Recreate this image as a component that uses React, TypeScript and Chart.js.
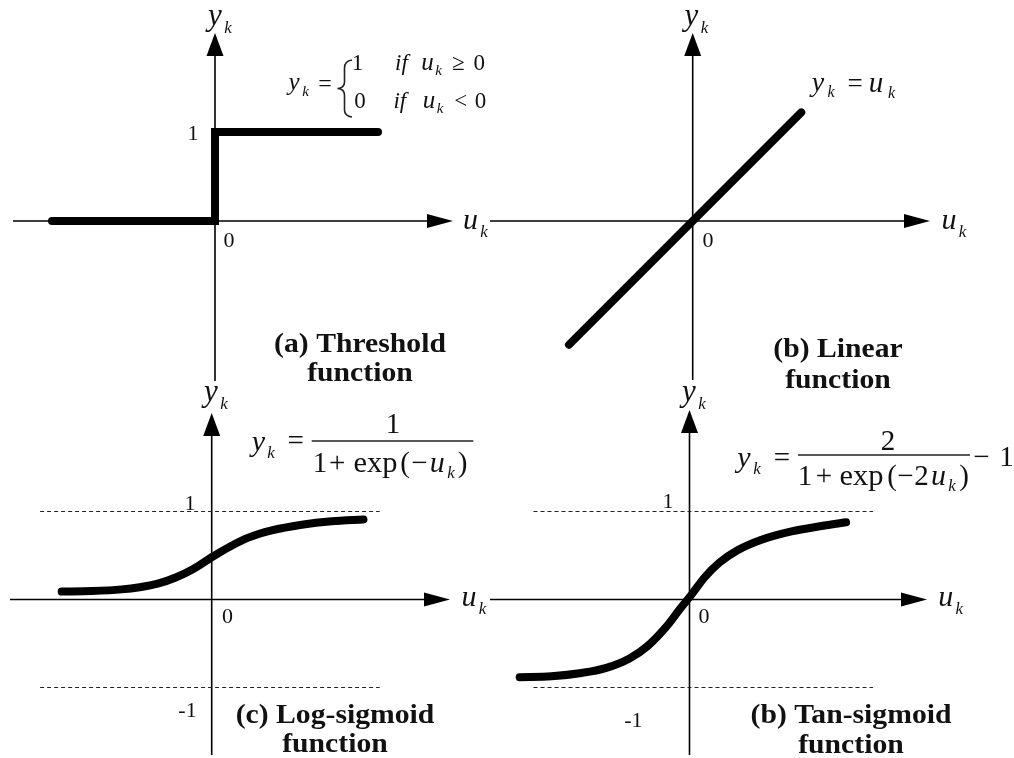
import React, { useEffect, useRef } from "react";
import { Chart, registerables } from "chart.js";

Chart.register(...registerables);

const W = 1014;
const H = 758;
const SERIF = "'Liberation Serif', 'Times New Roman', serif";

// (a) threshold: step from 0 to 1 at u = 0
const thresholdU = [-2, 0, 0, 2];
const thresholdY = [0, 0, 1, 1];

// (b) linear: y = u
const linearU = [-1.39, 1.22];
const linearY = [-1.39, 1.22];

// (c) log-sigmoid curve samples
const logSigU = [-2.5, -2.0, -1.5, -1.2, -0.9, -0.6, -0.3, 0, 0.3, 0.6, 1.0, 1.5, 2.0, 2.53];
const logSigY = [0.09, 0.096, 0.115, 0.14, 0.18, 0.25, 0.35, 0.48, 0.6, 0.7, 0.785, 0.85, 0.89, 0.91];

// (d) tan-sigmoid curve samples
const tanSigU = [-2.83, -2.3, -1.8, -1.4, -1.0, -0.7, -0.4, -0.15, 0.05, 0.25, 0.5, 0.8, 1.2, 1.7, 2.2, 2.61];
const tanSigY = [-0.883, -0.872, -0.835, -0.78, -0.67, -0.53, -0.32, -0.1, 0.07, 0.25, 0.42, 0.56, 0.68, 0.775, 0.835, 0.878];

// dashed asymptote guides at y = 1 and y = -1
const guideLevels = [1, -1];
const logSigGuideU = [-2.86, 2.8];
const tanSigGuideU = [-2.6, 3.06];

// axis tick labels
const zeroLabel = "0";
const oneLabel = "1";
const minusOneLabel = "-1";

// panel captions
const thresholdTitle = ["(a) Threshold", "function"];
const linearTitle = ["(b) Linear", "function"];
const logSigTitle = ["(c) Log-sigmoid", "function"];
const tanSigTitle = ["(b) Tan-sigmoid", "function"];

const it = (s: number) => `italic ${s}px ${SERIF}`;
const rm = (s: number) => `${s}px ${SERIF}`;
const bd = (s: number) => `bold ${s}px ${SERIF}`;

// text token, x is the horizontal centre unless align says otherwise, y is the baseline
type Tok = { t: string; x: number; y: number; font: string; align?: CanvasTextAlign; sx?: number };

type Panel = {
  origin: [number, number];
  unit: [number, number];
  axis: { left: number; right: number; top: number; bottom: number };
  series: { u: number[]; y: number[]; smooth: boolean }[];
  guides?: { levels: number[]; u: number[] };
  texts: Tok[];
  decor?: (ctx: CanvasRenderingContext2D) => void;
};

const titleToks = (lines: string[], cx: number, b1: number, b2: number): Tok[] => [
  { t: lines[0], x: cx, y: b1, font: bd(28), sx: 1.06 },
  { t: lines[1], x: cx, y: b2, font: bd(28), sx: 1.06 },
];

const axisNameToks = (yc: number, yb: number, uc: number, ub: number): Tok[] => [
  { t: "y", x: yc, y: yb, font: it(31) },
  { t: "k", x: yc + 13, y: yb + 8, font: it(17) },
  { t: "u", x: uc, y: ub, font: it(30) },
  { t: "k", x: uc + 13.5, y: ub + 8, font: it(17) },
];

const fracBar = (x1: number, x2: number, y: number) => (ctx: CanvasRenderingContext2D) => {
  ctx.save();
  ctx.strokeStyle = "#222";
  ctx.lineWidth = 1.4;
  ctx.beginPath();
  ctx.moveTo(x1, y);
  ctx.lineTo(x2, y);
  ctx.stroke();
  ctx.restore();
};

const panelA: Panel = {
  origin: [215, 221],
  unit: [81.5, 89],
  axis: { left: 13, right: 453, top: 33, bottom: 381 },
  series: [{ u: thresholdU, y: thresholdY, smooth: false }],
  texts: [
    ...axisNameToks(215, 25, 470.5, 229),
    { t: zeroLabel, x: 229, y: 247, font: rm(22) },
    { t: oneLabel, x: 193, y: 140, font: rm(22) },
    { t: "y", x: 294, y: 90, font: it(25) },
    { t: "k", x: 305.5, y: 96, font: it(15) },
    { t: "=", x: 325, y: 91, font: rm(24) },
    { t: "1", x: 357.5, y: 70, font: rm(23) },
    { t: "if", x: 401.5, y: 70, font: it(23) },
    { t: "u", x: 427.5, y: 70, font: it(25) },
    { t: "k", x: 438.5, y: 75, font: it(15) },
    { t: "\u2265", x: 458.3, y: 70, font: rm(23) },
    { t: "0", x: 479.2, y: 70, font: rm(23) },
    { t: "0", x: 360, y: 108, font: rm(23) },
    { t: "if", x: 399.8, y: 108, font: it(23) },
    { t: "u", x: 429, y: 108, font: it(25) },
    { t: "k", x: 440, y: 113, font: it(15) },
    { t: "<", x: 460.8, y: 108, font: rm(23) },
    { t: "0", x: 480.5, y: 108, font: rm(23) },
    ...titleToks(thresholdTitle, 360, 352, 381),
  ],
  decor: (ctx) => {
    // curly brace of the piecewise definition
    ctx.save();
    ctx.strokeStyle = "#222";
    ctx.lineWidth = 1.6;
    ctx.beginPath();
    ctx.moveTo(352, 60);
    ctx.quadraticCurveTo(344.5, 61, 344.5, 68);
    ctx.lineTo(344.5, 82);
    ctx.quadraticCurveTo(344.5, 88, 337.5, 88.5);
    ctx.quadraticCurveTo(344.5, 89, 344.5, 95);
    ctx.lineTo(344.5, 110);
    ctx.quadraticCurveTo(344.5, 116, 352, 117);
    ctx.stroke();
    ctx.restore();
  },
};

const panelB: Panel = {
  origin: [692.7, 221],
  unit: [89, 89],
  axis: { left: 490, right: 930, top: 33, bottom: 380 },
  series: [{ u: linearU, y: linearY, smooth: false }],
  texts: [
    ...axisNameToks(691.5, 25, 949, 229),
    { t: zeroLabel, x: 708, y: 247, font: rm(22) },
    { t: "y", x: 818, y: 91, font: it(28) },
    { t: "k", x: 831, y: 97, font: it(16) },
    { t: "=", x: 855, y: 92, font: rm(27) },
    { t: "u", x: 876, y: 92, font: it(29) },
    { t: "k", x: 891.5, y: 98, font: it(16) },
    ...titleToks(linearTitle, 838, 357, 388),
  ],
};

const panelC: Panel = {
  origin: [211.7, 599.5],
  unit: [60, 88],
  axis: { left: 10, right: 450, top: 413, bottom: 755 },
  series: [{ u: logSigU, y: logSigY, smooth: true }],
  guides: { levels: guideLevels, u: logSigGuideU },
  texts: [
    ...axisNameToks(211, 401, 469, 606),
    { t: oneLabel, x: 190, y: 510, font: rm(22) },
    { t: zeroLabel, x: 227.5, y: 623, font: rm(22) },
    { t: minusOneLabel, x: 187.5, y: 717, font: rm(22) },
    { t: "y", x: 258.3, y: 451, font: it(30) },
    { t: "k", x: 271, y: 458, font: it(17) },
    { t: "=", x: 295.8, y: 450, font: rm(29) },
    { t: "1", x: 393, y: 433, font: rm(29) },
    { t: "1", x: 320, y: 472, font: rm(29) },
    { t: "+", x: 337.3, y: 472, font: rm(29) },
    { t: "exp", x: 375.5, y: 472, font: rm(29), sx: 1.05 },
    { t: "(", x: 405, y: 472, font: rm(29) },
    { t: "\u2212", x: 419.5, y: 472, font: rm(29) },
    { t: "u", x: 437.3, y: 472, font: it(30) },
    { t: "k", x: 451, y: 478, font: it(17) },
    { t: ")", x: 462.5, y: 472, font: rm(29) },
    ...titleToks(logSigTitle, 335, 723, 752),
  ],
  decor: fracBar(311.7, 473.3, 441),
};

const panelD: Panel = {
  origin: [689.5, 599.5],
  unit: [60, 88],
  axis: { left: 490, right: 927, top: 410, bottom: 755 },
  series: [{ u: tanSigU, y: tanSigY, smooth: true }],
  guides: { levels: guideLevels, u: tanSigGuideU },
  texts: [
    ...axisNameToks(689, 401, 945.8, 606),
    { t: oneLabel, x: 668, y: 508, font: rm(22) },
    { t: zeroLabel, x: 704, y: 623, font: rm(22) },
    { t: minusOneLabel, x: 633.3, y: 727, font: rm(22) },
    { t: "y", x: 744, y: 467, font: it(30) },
    { t: "k", x: 757, y: 474, font: it(17) },
    { t: "=", x: 782, y: 467, font: rm(29) },
    { t: "2", x: 888, y: 450, font: rm(29) },
    { t: "1", x: 805, y: 485, font: rm(29) },
    { t: "+", x: 824, y: 485, font: rm(29) },
    { t: "exp", x: 861.5, y: 485, font: rm(29), sx: 1.05 },
    { t: "(", x: 892, y: 485, font: rm(29) },
    { t: "\u2212", x: 905.5, y: 485, font: rm(29) },
    { t: "2", x: 921.5, y: 485, font: rm(29) },
    { t: "u", x: 938.5, y: 485, font: it(30) },
    { t: "k", x: 952, y: 491, font: it(17) },
    { t: ")", x: 964, y: 485, font: rm(29) },
    { t: "\u2212", x: 981.5, y: 466, font: rm(29) },
    { t: "1", x: 1006.5, y: 466, font: rm(29) },
    ...titleToks(tanSigTitle, 851, 723, 753),
  ],
  decor: fracBar(798, 970, 455),
};

function makePlugin(p: Panel) {
  return {
    id: "panelDecor",
    beforeDatasetsDraw(chart: any) {
      const { ctx, chartArea: a, scales } = chart;
      const x0 = scales.x.getPixelForValue(0);
      const y0 = scales.y.getPixelForValue(0);
      ctx.save();
      ctx.strokeStyle = "#000";
      ctx.fillStyle = "#000";
      ctx.lineWidth = 1.6;
      ctx.beginPath();
      ctx.moveTo(a.left, y0);
      ctx.lineTo(a.right - 20, y0);
      ctx.moveTo(x0, a.bottom);
      ctx.lineTo(x0, a.top + 18);
      ctx.stroke();
      // arrowheads
      ctx.beginPath();
      ctx.moveTo(a.right, y0);
      ctx.lineTo(a.right - 26, y0 - 7);
      ctx.lineTo(a.right - 26, y0 + 7);
      ctx.closePath();
      ctx.fill();
      ctx.beginPath();
      ctx.moveTo(x0, a.top);
      ctx.lineTo(x0 - 8.5, a.top + 23);
      ctx.lineTo(x0 + 8.5, a.top + 23);
      ctx.closePath();
      ctx.fill();
      ctx.restore();
    },
    afterDraw(chart: any) {
      const ctx: CanvasRenderingContext2D = chart.ctx;
      ctx.save();
      ctx.fillStyle = "#111";
      ctx.textBaseline = "alphabetic";
      for (const tk of p.texts) {
        ctx.save();
        ctx.font = tk.font;
        ctx.textAlign = tk.align || "center";
        ctx.translate(tk.x, tk.y);
        ctx.scale(tk.sx || 1, 1);
        ctx.fillText(tk.t, 0, 0);
        ctx.restore();
      }
      ctx.restore();
      if (p.decor) p.decor(ctx);
    },
  };
}

function PanelChart({ panel }: { panel: Panel }) {
  const ref = useRef<HTMLCanvasElement | null>(null);
  useEffect(() => {
    if (!ref.current) return;
    const { origin, unit, axis } = panel;
    const datasets: any[] = panel.series.map((s) => ({
      data: s.u.map((u, i) => ({ x: u, y: s.y[i] })),
      showLine: true,
      borderColor: "#000",
      borderWidth: 8,
      pointRadius: 0,
      borderCapStyle: "round",
      borderJoinStyle: s.smooth ? "round" : "miter",
      cubicInterpolationMode: s.smooth ? "monotone" : "default",
      tension: 0,
      clip: false,
    }));
    if (panel.guides) {
      const g = panel.guides;
      g.levels.forEach((lv) => {
        datasets.push({
          data: g.u.map((u) => ({ x: u, y: lv })),
          showLine: true,
          borderColor: "#222",
          borderWidth: 1,
          borderDash: [4, 3],
          pointRadius: 0,
          clip: false,
        });
      });
    }
    const chart = new Chart(ref.current, {
      type: "scatter",
      data: { datasets },
      options: {
        responsive: false,
        animation: false,
        devicePixelRatio: 1,
        events: [],
        layout: {
          padding: { left: axis.left, right: W - axis.right, top: axis.top, bottom: H - axis.bottom },
        },
        scales: {
          x: {
            type: "linear",
            display: false,
            bounds: "data",
            min: (axis.left - origin[0]) / unit[0],
            max: (axis.right - origin[0]) / unit[0],
          },
          y: {
            type: "linear",
            display: false,
            bounds: "data",
            min: (origin[1] - axis.bottom) / unit[1],
            max: (origin[1] - axis.top) / unit[1],
          },
        },
        plugins: { legend: { display: false }, tooltip: { enabled: false }, title: { display: false } },
      } as any,
      plugins: [makePlugin(panel)],
    });
    return () => chart.destroy();
  }, [panel]);
  return (
    <canvas
      ref={ref}
      width={W}
      height={H}
      style={{ position: "absolute", left: 0, top: 0, width: W, height: H }}
    />
  );
}

export default function App() {
  return (
    <div style={{ position: "absolute", left: 0, top: 0, width: W, height: H, background: "#fff", overflow: "hidden" }}>
      <PanelChart panel={panelA} />
      <PanelChart panel={panelB} />
      <PanelChart panel={panelC} />
      <PanelChart panel={panelD} />
    </div>
  );
}
